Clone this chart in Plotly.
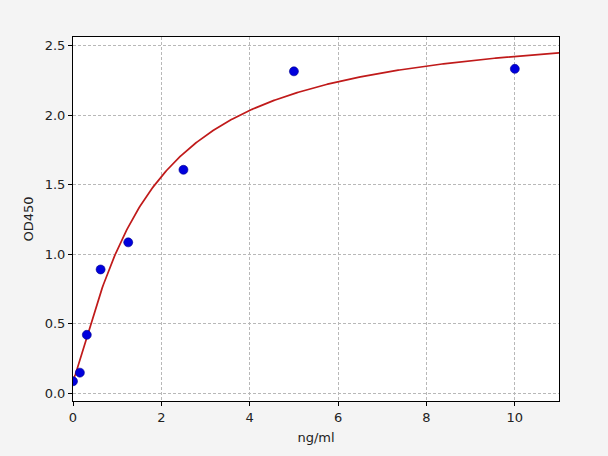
import numpy as np
import plotly.graph_objects as go

# Standard points
conc = [0, 0.156, 0.3125, 0.625, 1.25, 2.5, 5, 10]
od = [0.085, 0.147, 0.419, 0.889, 1.084, 1.606, 2.314, 2.332]

# 4PL fit parameters
fit_a = 0.09
fit_b = 1.2
fit_c = 1.6
fit_d = 2.68

x_ticks = [0, 2, 4, 6, 8, 10]
y_ticks = [0.0, 0.5, 1.0, 1.5, 2.0, 2.5]

xc = np.linspace(0, 11, 400)
yc = fit_d + (fit_a - fit_d) / (1 + (xc / fit_c) ** fit_b)

font = "DejaVu Sans"
fig = go.Figure()
fig.add_trace(go.Scatter(x=xc, y=yc, mode="lines",
                         line=dict(color="#c01a1a", width=1.7), hoverinfo="skip"))
fig.add_trace(go.Scatter(x=conc, y=od, mode="markers",
                         marker=dict(color="#0000dd", size=9,
                                     line=dict(color="#00008b", width=0.6))))

axis_common = dict(showline=True, linecolor="black", linewidth=1, mirror=True,
                   ticks="outside", ticklen=4, tickcolor="black", tickwidth=1,
                   showgrid=True, gridcolor="#b8b8b8", griddash="3px,2px", gridwidth=0.9,
                   zeroline=False, tickfont=dict(family=font, size=13, color="#222"))

fig.update_layout(
    width=608, height=456,
    paper_bgcolor="#f4f4f4", plot_bgcolor="white",
    margin=dict(l=73, r=49, t=37, b=55),
    showlegend=False,
    font=dict(family=font, size=13, color="#222"),
    xaxis=dict(range=[0, 11.0], tickvals=x_ticks, ticktext=[str(t) for t in x_ticks],
               title=dict(text="ng/ml", font=dict(family=font, size=13), standoff=9),
               **axis_common),
    yaxis=dict(range=[-0.057, 2.561], tickvals=y_ticks,
               ticktext=[f"{t:.1f}" for t in y_ticks],
               title=dict(text="OD450", font=dict(family=font, size=13), standoff=8),
               **axis_common),
)
fig.write_html(
    "out.html",
    config={"displayModeBar": False},
    post_script="document.body.style.margin='0';document.body.style.background='#f4f4f4';",
)
